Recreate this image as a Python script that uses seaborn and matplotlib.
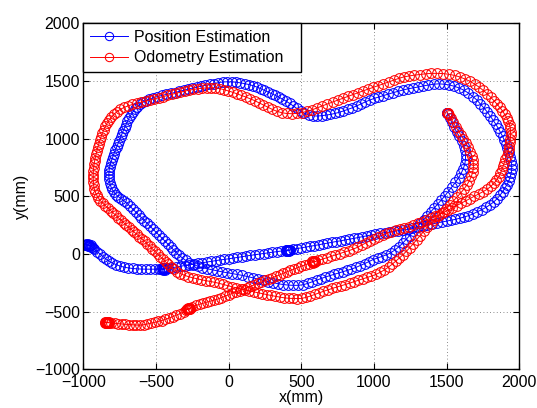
import matplotlib
matplotlib.use("Agg")
import matplotlib.pyplot as plt
import seaborn as sns
import pandas as pd

# ---------------- data (mm) ----------------
series_names = ["Position Estimation", "Odometry Estimation"]
series_colors = ["#0000ff", "#ff0000"]

pos_xy = [
    (-985, 82), (-980, 74), (-978, 86), (-974, 78), (-970, 70), (-968, 84), (-964, 76),
    (-960, 68), (-958, 80), (-954, 72), (-950, 64), (-946, 74), (-942, 62),
    (-935, 52), (-925, 40), (-905, 20), (-885, 0), (-865, -22), (-845, -42), (-825, -60),
    (-800, -78), (-775, -92), (-750, -104), (-720, -114), (-690, -121), (-660, -126),
    (-630, -129), (-600, -131), (-570, -132), (-540, -132), (-510, -132), (-480, -131),
    (-462, -132), (-458, -126), (-455, -136), (-452, -129), (-449, -124), (-448, -134),
    (-445, -130), (-442, -125), (-440, -135), (-437, -129), (-434, -126),
    (-420, -126), (-390, -120), (-360, -113), (-330, -106), (-300, -100), (-270, -94),
    (-240, -88), (-210, -82), (-180, -76), (-150, -70), (-120, -64), (-90, -58), (-60, -52),
    (-30, -47), (0, -42), (30, -36), (60, -30), (90, -24), (120, -18), (150, -12), (180, -7),
    (210, -1), (240, 4), (270, 9), (300, 15), (330, 20), (360, 25),
    (392, 28), (396, 34), (399, 24), (402, 31), (405, 37), (407, 27), (410, 33),
    (413, 29), (416, 37), (419, 31), (422, 35),
    (440, 40), (470, 47), (500, 53), (530, 60), (560, 66), (590, 73), (620, 80), (650, 87),
    (680, 94), (710, 101), (740, 108), (770, 114), (800, 121), (830, 128), (860, 135),
    (890, 142), (920, 150), (950, 157), (980, 164), (1010, 171), (1042, 179), (1075, 185),
    (1105, 190), (1135, 196), (1165, 201), (1202, 208), (1235, 216), (1265, 224), (1300, 232),
    (1335, 242), (1365, 252), (1400, 260), (1432, 268), (1465, 276), (1500, 285), (1530, 292),
    (1560, 300), (1590, 310), (1620, 320), (1650, 332), (1680, 347), (1710, 365), (1740, 383),
    (1770, 403), (1800, 428), (1825, 452), (1848, 480), (1868, 510), (1885, 540), (1900, 570),
    (1915, 600), (1928, 635), (1938, 670), (1945, 705), (1948, 740), (1947, 775), (1942, 810),
    (1935, 845), (1927, 880), (1918, 915), (1908, 950), (1898, 985), (1885, 1020), (1870, 1055),
    (1855, 1090), (1838, 1125), (1820, 1160), (1800, 1195), (1780, 1230), (1757, 1265),
    (1733, 1300), (1708, 1335), (1680, 1365), (1650, 1395), (1618, 1420), (1585, 1440),
    (1550, 1455), (1515, 1466), (1480, 1472), (1445, 1475), (1410, 1472), (1375, 1465),
    (1340, 1457), (1305, 1448), (1270, 1440), (1235, 1432), (1200, 1422), (1165, 1410),
    (1130, 1398), (1095, 1385), (1060, 1372), (1030, 1360), (1000, 1348), (970, 1334),
    (940, 1318), (910, 1300), (880, 1283), (850, 1267), (820, 1253), (790, 1240), (760, 1228),
    (730, 1218), (700, 1210), (670, 1204), (640, 1199), (610, 1196), (580, 1198), (550, 1205),
    (520, 1220), (495, 1240), (470, 1262), (445, 1284), (420, 1305), (395, 1325), (370, 1343),
    (345, 1360), (320, 1376), (295, 1390), (270, 1405), (245, 1420), (220, 1434), (195, 1447),
    (170, 1458), (140, 1469), (110, 1477), (80, 1484), (50, 1489), (20, 1492), (-10, 1493),
    (-40, 1491), (-70, 1486), (-100, 1478), (-130, 1470), (-160, 1462), (-190, 1454),
    (-220, 1446), (-250, 1438), (-280, 1430), (-310, 1420), (-340, 1410), (-370, 1400),
    (-400, 1392), (-430, 1383), (-460, 1374), (-490, 1365), (-520, 1354), (-545, 1343),
    (-568, 1330), (-590, 1315), (-610, 1298), (-628, 1278), (-645, 1255), (-660, 1230),
    (-673, 1205), (-685, 1178), (-696, 1150), (-706, 1122), (-716, 1094), (-726, 1066),
    (-735, 1038), (-744, 1010), (-753, 982), (-762, 954), (-771, 926), (-780, 898), (-789, 870),
    (-797, 842), (-805, 814), (-812, 786), (-818, 758), (-822, 730), (-824, 702), (-824, 674),
    (-822, 646), (-818, 618), (-812, 590), (-803, 563), (-790, 538), (-775, 515), (-758, 496),
    (-740, 480), (-720, 462), (-700, 440), (-680, 415), (-660, 390), (-640, 365), (-620, 340),
    (-600, 315), (-580, 290), (-560, 265), (-540, 240), (-520, 215), (-500, 190), (-480, 165),
    (-460, 140), (-440, 114), (-420, 88), (-400, 62), (-380, 37), (-360, 12), (-340, -12),
    (-318, -35), (-295, -56), (-270, -75), (-242, -92), (-212, -106), (-180, -118), (-148, -128),
    (-115, -137), (-80, -146), (-45, -155), (-10, -163), (25, -170), (60, -178), (95, -186),
    (130, -196), (165, -206), (200, -217), (235, -228), (270, -239), (305, -249), (340, -258),
    (375, -265), (410, -270), (445, -272), (480, -272), (515, -266), (545, -255), (575, -241),
    (605, -227), (635, -213), (665, -200), (695, -188), (725, -177), (755, -166), (785, -155),
    (815, -143), (845, -131), (875, -117), (905, -101), (935, -84), (965, -66), (995, -48),
    (1025, -35), (1055, -22), (1085, -8), (1115, 10), (1145, 35), (1172, 63), (1198, 94),
    (1222, 127), (1246, 160), (1270, 195), (1294, 230), (1318, 265), (1342, 298), (1366, 332),
    (1390, 365), (1414, 398), (1438, 432), (1462, 466), (1486, 500), (1510, 540), (1535, 580),
    (1560, 620), (1582, 660), (1600, 700), (1615, 740), (1625, 780), (1630, 820), (1630, 860),
    (1626, 900), (1617, 940), (1603, 980), (1586, 1020), (1568, 1060), (1550, 1100),
    (1535, 1140), (1522, 1180), (1510, 1210), (1505, 1218), (1504, 1220), (1503, 1222),
]

odo_xy = [
    (-852, -590), (-849, -597), (-846, -588), (-843, -595), (-840, -600), (-838, -590),
    (-835, -596), (-832, -588), (-829, -598), (-826, -592), (-822, -596),
    (-810, -598), (-785, -601), (-760, -604), (-735, -607), (-710, -610), (-685, -612),
    (-660, -614), (-635, -616), (-610, -617), (-585, -614), (-560, -607), (-535, -600),
    (-510, -593), (-485, -585), (-460, -577), (-435, -567), (-410, -556), (-385, -544),
    (-360, -531), (-335, -517), (-310, -503), (-290, -488),
    (-287, -474), (-284, -481), (-281, -470), (-278, -477), (-276, -467), (-274, -474),
    (-271, -481), (-268, -470), (-266, -476),
    (-250, -457), (-225, -446), (-200, -436), (-175, -427), (-150, -418), (-125, -409),
    (-100, -400), (-75, -391), (-50, -378), (-25, -366), (0, -354), (25, -342), (50, -330),
    (75, -318), (100, -306), (125, -294), (150, -282), (175, -268), (200, -256), (225, -243),
    (250, -230), (275, -218), (300, -206), (325, -194), (350, -182), (375, -168), (400, -155),
    (425, -143), (450, -131), (475, -119), (500, -107), (525, -95), (550, -83),
    (572, -70), (575, -63), (578, -74), (581, -66), (584, -60), (586, -71), (589, -64),
    (592, -58), (594, -68),
    (615, -56), (645, -45), (675, -33), (705, -21), (735, -9), (765, 3), (795, 15), (825, 28),
    (855, 41), (885, 57), (915, 76), (945, 96), (973, 114), (1000, 132), (1030, 150),
    (1060, 165), (1090, 180), (1120, 194), (1150, 206), (1180, 216), (1210, 225), (1240, 238),
    (1270, 252), (1300, 266), (1330, 280), (1360, 294), (1390, 309), (1420, 325), (1450, 342),
    (1480, 360), (1510, 380), (1540, 400), (1570, 420), (1600, 440), (1630, 460), (1660, 480),
    (1690, 500), (1720, 520), (1750, 540), (1778, 560), (1803, 585), (1825, 612), (1843, 640),
    (1858, 670), (1870, 700), (1880, 730), (1888, 760), (1896, 790), (1904, 820), (1912, 850),
    (1920, 880), (1926, 910), (1931, 940), (1935, 970), (1938, 1000), (1940, 1030),
    (1940, 1060), (1938, 1090), (1933, 1120), (1925, 1150), (1914, 1180), (1900, 1210),
    (1884, 1240), (1866, 1270), (1846, 1300), (1825, 1330), (1802, 1360), (1778, 1390),
    (1752, 1418), (1724, 1446), (1694, 1472), (1662, 1496), (1628, 1516), (1592, 1534),
    (1555, 1548), (1515, 1558), (1475, 1564), (1435, 1566), (1395, 1566), (1355, 1562),
    (1315, 1556), (1275, 1550), (1240, 1543), (1205, 1535), (1170, 1522), (1135, 1507),
    (1100, 1491), (1065, 1475), (1030, 1460), (995, 1445), (960, 1430), (925, 1414),
    (890, 1398), (855, 1382), (820, 1366), (785, 1350), (750, 1334), (715, 1318), (680, 1301),
    (645, 1284), (610, 1266), (575, 1250), (540, 1237), (505, 1226), (470, 1219), (435, 1216),
    (400, 1218), (365, 1225), (330, 1238), (298, 1255), (268, 1274), (238, 1293), (208, 1312),
    (178, 1330), (148, 1346), (118, 1361), (88, 1375), (58, 1389), (28, 1402), (-2, 1414),
    (-32, 1425), (-62, 1434), (-92, 1440), (-122, 1441), (-152, 1440), (-182, 1437),
    (-212, 1432), (-242, 1427), (-272, 1420), (-302, 1412), (-332, 1403), (-362, 1393),
    (-392, 1384), (-422, 1374), (-452, 1364), (-482, 1354), (-512, 1345), (-542, 1336),
    (-572, 1326), (-602, 1316), (-632, 1306), (-662, 1296), (-692, 1284), (-720, 1270),
    (-745, 1254), (-768, 1234), (-788, 1212), (-806, 1188), (-822, 1162), (-836, 1135),
    (-848, 1106), (-859, 1076), (-869, 1046), (-878, 1016), (-886, 986), (-893, 956),
    (-900, 926), (-906, 896), (-912, 866), (-917, 836), (-922, 806), (-926, 776), (-929, 746),
    (-931, 716), (-932, 686), (-932, 656), (-931, 626), (-929, 596), (-925, 566), (-918, 538),
    (-908, 510), (-896, 485), (-882, 462), (-866, 440), (-848, 418), (-830, 397), (-812, 376),
    (-794, 355), (-776, 334), (-758, 313), (-740, 292), (-722, 271), (-704, 250), (-686, 230),
    (-668, 210), (-650, 190), (-632, 170), (-614, 150), (-596, 130), (-578, 110), (-560, 88),
    (-542, 66), (-524, 44), (-506, 22), (-488, 0), (-470, -22), (-452, -45), (-434, -68),
    (-416, -91), (-398, -113), (-378, -134), (-356, -153), (-332, -170), (-306, -184),
    (-278, -196), (-248, -206), (-218, -215), (-188, -223), (-158, -231), (-128, -238),
    (-98, -245), (-68, -254), (-38, -264), (-8, -274), (22, -284), (52, -294), (82, -303),
    (112, -312), (142, -320), (172, -328), (202, -336), (232, -344), (262, -352), (292, -360),
    (322, -367), (352, -374), (382, -380), (412, -384), (442, -386), (472, -387), (502, -385),
    (532, -377), (562, -365), (592, -351), (622, -337), (652, -324), (682, -311), (712, -299),
    (742, -288), (772, -277), (802, -265), (832, -253), (862, -240), (892, -228), (922, -216),
    (952, -204), (982, -192), (1012, -178), (1042, -160), (1072, -138), (1100, -114),
    (1126, -88), (1150, -62), (1174, -36), (1198, -8), (1222, 22), (1246, 54), (1270, 88),
    (1294, 124), (1318, 160), (1342, 196), (1366, 230), (1390, 262), (1416, 294), (1442, 326),
    (1468, 358), (1494, 392), (1520, 426), (1546, 460), (1572, 494), (1596, 528), (1620, 564),
    (1640, 600), (1657, 636), (1670, 672), (1679, 708), (1684, 744), (1684, 780), (1680, 816),
    (1672, 852), (1661, 888), (1648, 924), (1633, 960), (1616, 996), (1598, 1032),
    (1580, 1068), (1562, 1104), (1545, 1140), (1530, 1175), (1516, 1205), (1508, 1220),
    (1506, 1223), (1505, 1225),
]

x_ticks = [-1000, -500, 0, 500, 1000, 1500, 2000]
y_ticks = [-1000, -500, 0, 500, 1000, 1500, 2000]
x_label = "x(mm)"
y_label = "y(mm)"

# ---------------- figure ----------------
plt.rcParams["font.family"] = ["Liberation Sans", "DejaVu Sans"]
plt.rcParams["axes.unicode_minus"] = True

fig = plt.figure(figsize=(5.37, 4.08), dpi=100)
ax = fig.add_axes([83.3 / 537, 38.7 / 408, 436 / 537, 346 / 408])

for name, color, pts in zip(series_names, series_colors, [pos_xy, odo_xy]):
    df = pd.DataFrame(pts, columns=["x", "y"])
    sns.lineplot(
        data=df, x="x", y="y", ax=ax, sort=False, estimator=None,
        color=color, linewidth=0.7, marker="o", markersize=7,
        markerfacecolor="none", markeredgecolor=color, markeredgewidth=0.75,
        label=name, legend=False,
    )

ax.set_xlim(-1000, 2000)
ax.set_ylim(-1000, 2000)
ax.set_xticks(x_ticks)
ax.set_yticks(y_ticks)
ax.set_xlabel(x_label, fontsize=11.5, labelpad=0)
ax.set_ylabel(y_label, fontsize=11.5, labelpad=4)

ax.grid(True, linestyle=(0, (1, 3)), color="#666666", linewidth=0.6)
ax.set_axisbelow(True)
ax.tick_params(direction="in", length=4, width=0.8, top=True, right=True,
               labelsize=11.5, colors="black")
ax.tick_params(axis="x", pad=4)
ax.tick_params(axis="y", pad=2.5)
for sp in ax.spines.values():
    sp.set_linewidth(1.0)
    sp.set_color("black")

leg = ax.legend(
    loc="upper left", bbox_to_anchor=(0, 1 - 56 / 346, 218 / 436, 56 / 346),
    mode="expand", borderaxespad=0, fancybox=False, framealpha=1,
    edgecolor="black", fontsize=11.5, handlelength=2.4, handletextpad=0.35,
    borderpad=0.4, labelspacing=0.35, numpoints=1, markerscale=6 / 7,
)
leg.get_frame().set_linewidth(1.0)

fig.savefig("out.png", dpi=100)
